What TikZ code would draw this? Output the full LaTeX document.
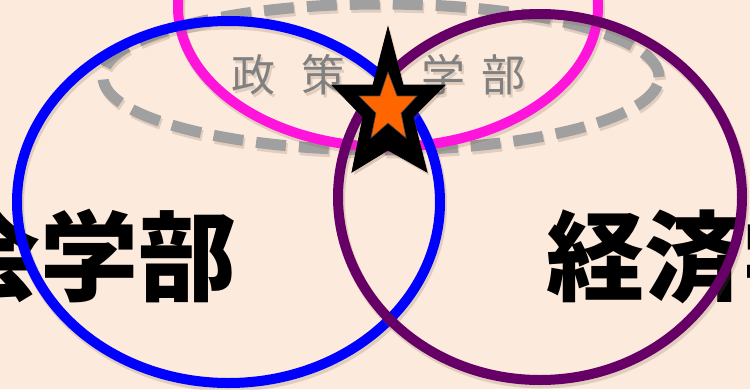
\documentclass[tikz,border=0pt]{standalone}
\usepackage{fontspec}
\newfontfamily\jp{Noto Sans CJK JP}
\definecolor{bg}{RGB}{252,234,220}
\definecolor{shadowc}{RGB}{120,90,70}
\definecolor{ringblue}{RGB}{0,0,255}
\definecolor{ringmag}{RGB}{255,20,220}
\definecolor{ringpur}{RGB}{102,0,102}
\definecolor{dashgray}{RGB}{160,160,160}
\definecolor{txtgray}{RGB}{128,128,128}
\definecolor{starorange}{RGB}{255,102,0}
\begin{document}
\begin{tikzpicture}[x=1pt,y=-1pt,
  shad/.style={preaction={draw=shadowc, opacity=0.2, line width=11pt, transform canvas={shift={(1.5pt,-3pt)}}}},
  ring/.style={line width=10pt, shad},
  dashring/.style={draw=dashgray, line width=11pt, dash pattern=on 30pt off 13pt,
    preaction={draw=shadowc, opacity=0.2, line width=11pt, dash pattern=on 30pt off 13pt, transform canvas={shift={(1.5pt,-3pt)}}}},
  bigtxt/.style={font=\jp\bfseries\fontsize{98}{98}\selectfont, inner sep=0pt, text=black},
  smalltxt/.style={font=\jp\fontsize{44}{44}\selectfont, inner sep=0pt, text=txtgray},
  smallshad/.style={font=\jp\fontsize{44}{44}\selectfont, inner sep=0pt, text=shadowc, opacity=0.2},
]
\fill[bg] (0,0) rectangle (750,389);
\useasboundingbox (0,0) rectangle (750,389);
\clip (0,0) rectangle (750,389);

% big black texts
\node[bigtxt, anchor=east] (law) at (237,256) {会学部};
\node[bigtxt, anchor=west] (econ) at (546,256) {経済学};

% gray dashed ellipse
\draw[dashring] (381,77) ellipse [x radius=278pt, y radius=73pt];

% gray text with shadow
\foreach \c/\x [count=\i] in {政/253,策/323,学/443,部/503}{
  \node[smallshad] at (\x+2.5,78) {\c};
  \node[smalltxt] (p\i) at (\x,75) {\c};
}

% magenta, blue, purple ellipses
\draw[ring, draw=ringmag] (388,7) ellipse [x radius=210pt, y radius=140pt];
\draw[ring, draw=ringblue] (228.5,202) ellipse [x radius=211.5pt, y radius=181pt];
\draw[ring, draw=ringpur] (540,197) ellipse [x radius=202pt, y radius=183pt];

% star
\draw[fill=black, line width=0.8pt, line join=miter,
  preaction={fill=shadowc, opacity=0.25, transform canvas={shift={(2pt,-3pt)}}}]
  (388,27) -- (403,85) -- (445,85) -- (413,117) -- (427,172) -- (388,150)
  -- (352,172) -- (363,117) -- (332,85) -- (373,85) -- cycle;
\draw[fill=starorange, draw=black!70, line width=0.6pt]
  (388,72) -- (397,96) -- (417,96) -- (401,113) -- (406,138) -- (388,123)
  -- (371,138) -- (376,113) -- (359,96) -- (380,96) -- cycle;
\end{tikzpicture}
\end{document}
